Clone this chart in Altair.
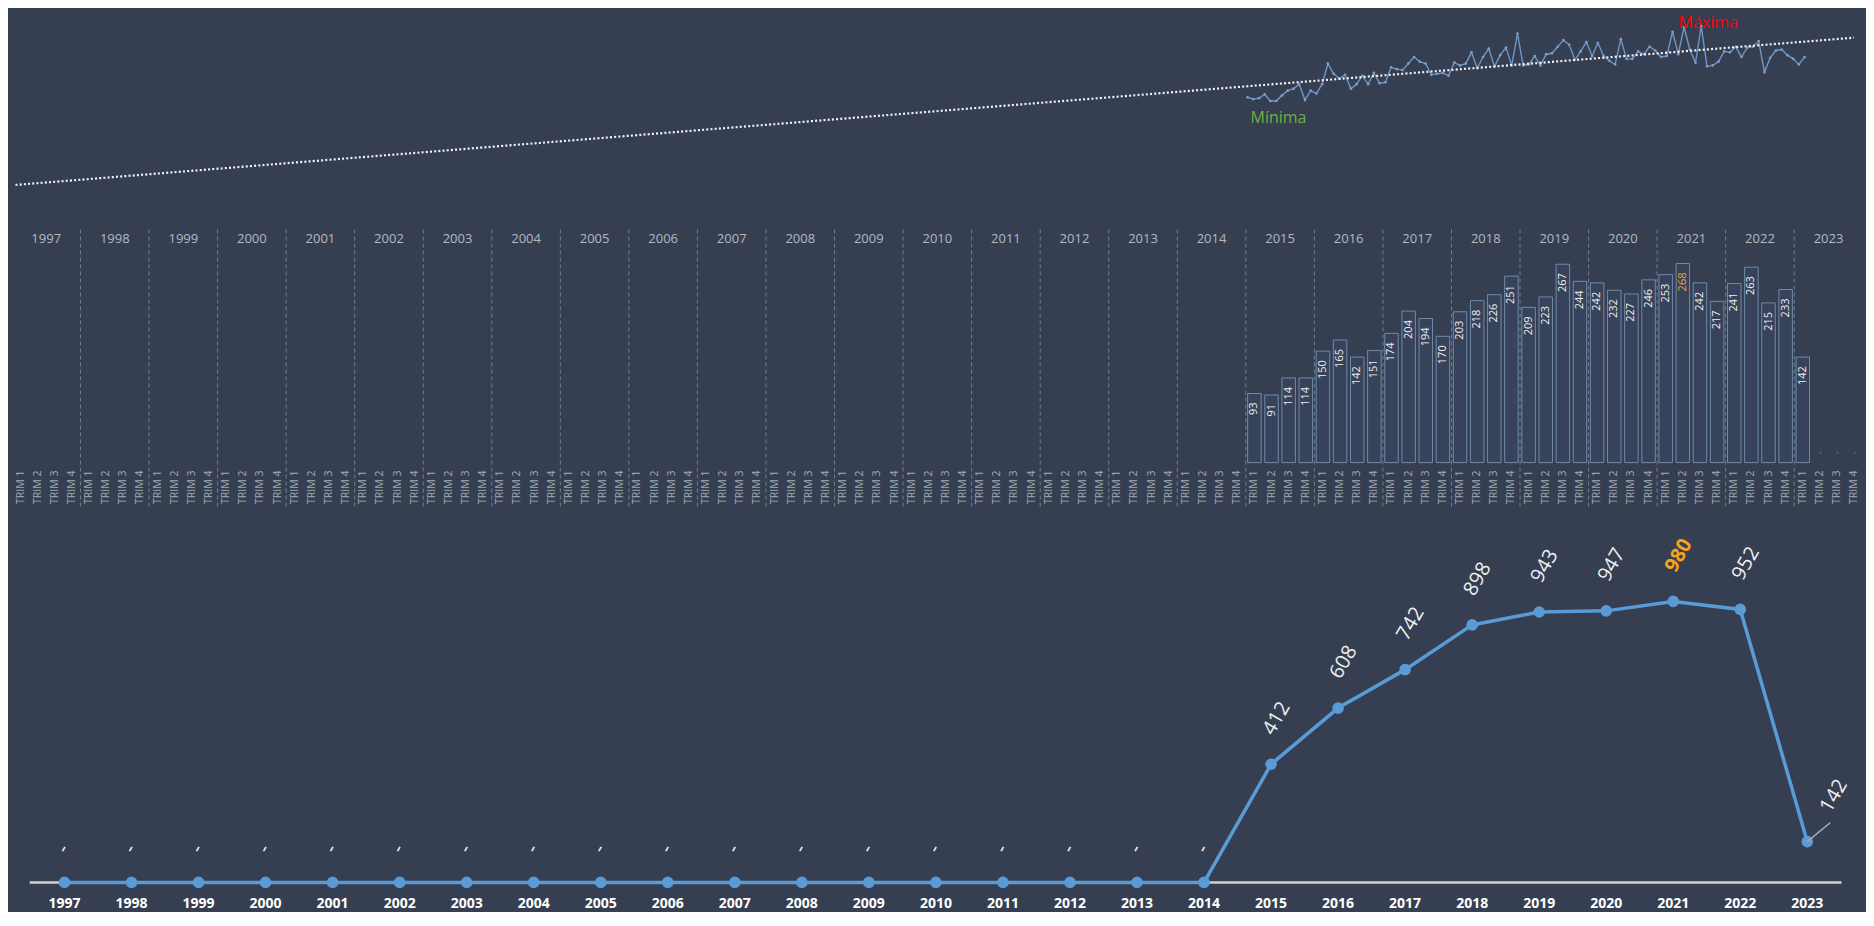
import altair as alt
import numpy as np
import pandas as pd

BG = "#353f51"

# ---------------- data ----------------
years = list(range(1997, 2024))
quarter_names = ["TRIM 1", "TRIM 2", "TRIM 3", "TRIM 4"]
first_data_year = 2015

# yearly totals (bottom panel)
year_totals = [0] * 18 + [412, 608, 742, 898, 943, 947, 980, 952, 142]

# quarterly totals 2015 TRIM 1 .. 2023 TRIM 1 (middle panel)
quarter_totals = [
    93, 91, 114, 114,
    150, 165, 142, 151,
    174, 204, 194, 170,
    203, 218, 226, 251,
    209, 223, 267, 244,
    242, 232, 227, 246,
    253, 268, 242, 217,
    241, 263, 215, 233,
    142,
]

# monthly values Jan 2015 .. Feb 2023 (top sparkline)
month_values = [
    32, 30, 31, 35, 28, 28, 34, 39, 41, 46, 29, 39,
    36, 46, 68, 57, 52, 56, 41, 46, 55, 46, 58, 47,
    48, 64, 62, 61, 68, 75, 70, 68, 56, 57, 58, 55,
    69, 66, 68, 80, 63, 75, 84, 65, 77, 85, 66, 100,
    66, 67, 76, 66, 78, 79, 86, 93, 88, 72, 81, 91,
    76, 90, 76, 71, 67, 94, 73, 73, 81, 78, 86, 82,
    75, 76, 102, 78, 107, 83, 69, 108, 65, 66, 70, 81,
    80, 86, 75, 85, 86, 92, 59, 74, 82, 83, 77, 73,
    67, 75,
]

# ---------------- frames ----------------
rows = []
for yi, y in enumerate(years):
    for qi, q in enumerate(quarter_names):
        rows.append({"year": y, "quarter": q, "slot": yi * 4 + qi})
qdf = pd.DataFrame(rows)
k0 = (first_data_year - years[0]) * 4
vals = [np.nan] * len(qdf)
for i, v in enumerate(quarter_totals):
    vals[k0 + i] = v
qdf["value"] = vals

bars_df = qdf.dropna(subset=["value"]).copy()
bars_df["label"] = bars_df["value"].astype(int).astype(str)
bars_df["col"] = np.where(bars_df["value"] == bars_df["value"].max(), "#f0a22e", "#f0f0f0")

empty_last = qdf[(qdf["year"] == years[-1]) & (qdf["value"].isna())].copy()
empty_last["label"] = "-"

ylab_df = pd.DataFrame({"year": [str(y) for y in years],
                        "mid": [i * 4 + 1.5 for i in range(len(years))]})
sep_df = pd.DataFrame({"slot": [i * 4 - 0.5 for i in range(1, len(years))]})

mdf = pd.DataFrame({"value": month_values})
mdf["slot"] = k0 - 0.5 + np.arange(len(mdf)) / 3.0
mn = mdf.loc[[mdf["value"].idxmin()]].assign(label="Mínima")
mx = mdf.loc[[mdf["value"].idxmax()]].assign(label="Máxima")

tdf = pd.DataFrame({"year": years, "value": year_totals})
tdf["label"] = ["-" if v == 0 else str(v) for v in year_totals]
imax = int(tdf["value"].idxmax())
ilast = len(tdf) - 1
lab_main = tdf.drop(index=[imax, ilast])
lab_max = tdf.loc[[imax]]
lab_last = tdf.loc[[ilast]]
base_df = pd.DataFrame({"x1": [years[0] - 0.52], "x2": [years[-1] + 0.51], "y": [0]})
ytxt_df = pd.DataFrame({"year": years, "ylabel": [str(y) for y in years]})

# ---------------- scales ----------------
x_slot = alt.Scale(domain=[0, 107], range=[7.5, 1851.2], nice=False, zero=False)
y_top = alt.Scale(domain=[0, 100], range=[119.2, 25.6], nice=False, zero=False)
y_mid = alt.Scale(domain=[0, max(quarter_totals)], range=[454.6, 255.5], nice=False, zero=False)
x_year = alt.Scale(domain=[years[0], years[-1]], range=[56.5, 1799.3], nice=False, zero=False)
y_bot = alt.Scale(domain=[0, max(year_totals)], range=[874.4, 593.4], nice=False, zero=False)

qmax = max(quarter_totals)

# ---------------- top panel ----------------
spark = alt.Chart(mdf).mark_line(
    color="#6f95c4", strokeWidth=1.4,
    point=alt.OverlayMarkDef(color="#7c9fcc", size=7, filled=True),
).encode(
    x=alt.X("slot:Q", scale=x_slot, axis=None),
    y=alt.Y("value:Q", scale=y_top, axis=None),
)
trend = alt.Chart(mdf).transform_regression(
    "slot", "value", extent=[0, 106.7]
).mark_line(color="#f4f4f4", strokeWidth=2.2, strokeDash=[2, 2.2]).encode(
    x=alt.X("slot:Q", scale=x_slot, axis=None),
    y=alt.Y("value:Q", scale=y_top, axis=None),
)
min_lab = alt.Chart(mn).mark_text(
    font="Open Sans", fontSize=16, color="#70ad47", align="center",
    baseline="middle", xOffset=8, yOffset=17,
).encode(
    x=alt.X("slot:Q", scale=x_slot, axis=None),
    y=alt.Y("value:Q", scale=y_top, axis=None),
    text="label:N",
)
max_lab = alt.Chart(mx).mark_text(
    font="Open Sans", fontSize=16, color="#ff0000", align="center",
    baseline="middle", xOffset=7, yOffset=-3,
).encode(
    x=alt.X("slot:Q", scale=x_slot, axis=None),
    y=alt.Y("value:Q", scale=y_top, axis=None),
    text="label:N",
)
top = alt.layer(spark, trend, min_lab, max_lab)

# ---------------- middle panel ----------------
seps = alt.Chart(sep_df).mark_rule(
    color="#8a93a2", strokeWidth=1, strokeDash=[4, 3], opacity=0.75,
    yOffset=-34, y2Offset=45,
).encode(
    x=alt.X("slot:Q", scale=x_slot, axis=None),
    y=alt.Y(datum=qmax, scale=y_mid, axis=None),
    y2=alt.Y2(datum=0),
)
bars = alt.Chart(bars_df).mark_bar(
    size=13.5, fill="#37435a", stroke="#7b96b9", strokeWidth=1, strokeOpacity=0.85,
).encode(
    x=alt.X("slot:Q", scale=x_slot, axis=None),
    y=alt.Y("value:Q", scale=y_mid, axis=None),
    y2=alt.Y2(datum=0),
)
bar_labels = alt.Chart(bars_df).mark_text(
    font="Open Sans", fontSize=11, angle=270, align="right", baseline="middle",
    yOffset=9,
).encode(
    x=alt.X("slot:Q", scale=x_slot, axis=None),
    y=alt.Y("value:Q", scale=y_mid, axis=None),
    text="label:N",
    color=alt.Color("col:N", scale=None),
)
trim_labels = alt.Chart(qdf).mark_text(
    font="Open Sans", fontSize=10.5, angle=270, align="right", baseline="middle",
    color="#a3aab5", yOffset=8,
).encode(
    x=alt.X("slot:Q", scale=x_slot, axis=None),
    y=alt.Y(datum=0, scale=y_mid, axis=None),
    text="quarter:N",
)
empty_dots = alt.Chart(empty_last).mark_text(
    font="Open Sans", fontSize=8, angle=270, align="center", baseline="middle",
    color="#a3aab5", yOffset=-10,
).encode(
    x=alt.X("slot:Q", scale=x_slot, axis=None),
    y=alt.Y(datum=0, scale=y_mid, axis=None),
    text="label:N",
)
year_labels_mid = alt.Chart(ylab_df).mark_text(
    font="Open Sans", fontSize=13, color="#b3b9c3", align="center", baseline="middle",
    yOffset=-25,
).encode(
    x=alt.X("mid:Q", scale=x_slot, axis=None),
    y=alt.Y(datum=qmax, scale=y_mid, axis=None),
    text="year:N",
)
mid = alt.layer(seps, bars, bar_labels, trim_labels, empty_dots, year_labels_mid)

# ---------------- bottom panel ----------------
base_line = alt.Chart(base_df).mark_rule(color="#d2d2d2", strokeWidth=2.5).encode(
    x=alt.X("x1:Q", scale=x_year, axis=None),
    x2="x2:Q",
    y=alt.Y("y:Q", scale=y_bot, axis=None),
)
line = alt.Chart(tdf).mark_line(
    color="#5b9bd5", strokeWidth=3.5,
    point=alt.OverlayMarkDef(color="#5b9bd5", size=135, filled=True, opacity=1),
).encode(
    x=alt.X("year:Q", scale=x_year, axis=None),
    y=alt.Y("value:Q", scale=y_bot, axis=None),
)
labels_main = alt.Chart(lab_main).mark_text(
    font="Open Sans", fontSize=20, color="#f0f0f0", angle=300, align="left",
    baseline="middle", xOffset=-3, yOffset=-31,
).encode(
    x=alt.X("year:Q", scale=x_year, axis=None),
    y=alt.Y("value:Q", scale=y_bot, axis=None),
    text="label:N",
)
labels_max = alt.Chart(lab_max).mark_text(
    font="Open Sans", fontSize=20, fontWeight="bold", color="#f5a31a", angle=300,
    align="left", baseline="middle", xOffset=-3, yOffset=-31,
).encode(
    x=alt.X("year:Q", scale=x_year, axis=None),
    y=alt.Y("value:Q", scale=y_bot, axis=None),
    text="label:N",
)
leader = alt.Chart(lab_last).mark_rule(
    color="#a6a6a6", strokeWidth=1.5, x2Offset=23, y2Offset=-19,
).encode(
    x=alt.X("year:Q", scale=x_year, axis=None),
    y=alt.Y("value:Q", scale=y_bot, axis=None),
    x2="year:Q",
    y2="value:Q",
)
labels_last = alt.Chart(lab_last).mark_text(
    font="Open Sans", fontSize=20, color="#f0f0f0", angle=300, align="left",
    baseline="middle", xOffset=18, yOffset=-31,
).encode(
    x=alt.X("year:Q", scale=x_year, axis=None),
    y=alt.Y("value:Q", scale=y_bot, axis=None),
    text="label:N",
)
year_labels_bot = alt.Chart(ytxt_df).mark_text(
    font="Open Sans", fontSize=14, fontWeight="bold", color="#ffffff",
    align="center", baseline="middle", yOffset=22,
).encode(
    x=alt.X("year:Q", scale=x_year, axis=None),
    y=alt.Y(datum=0, scale=y_bot, axis=None),
    text="ylabel:N",
)
bot = alt.layer(base_line, line, leader, labels_main, labels_max, labels_last, year_labels_bot)

chart = alt.layer(top, mid, bot).resolve_scale(
    x="independent", y="independent", color="independent"
).properties(
    width=1858, height=904, background=BG, padding=0,
    autosize=alt.AutoSizeParams(type="none"),
).configure_view(stroke=None)

chart.save("out.html", embed_options={"renderer": "svg", "actions": False})
